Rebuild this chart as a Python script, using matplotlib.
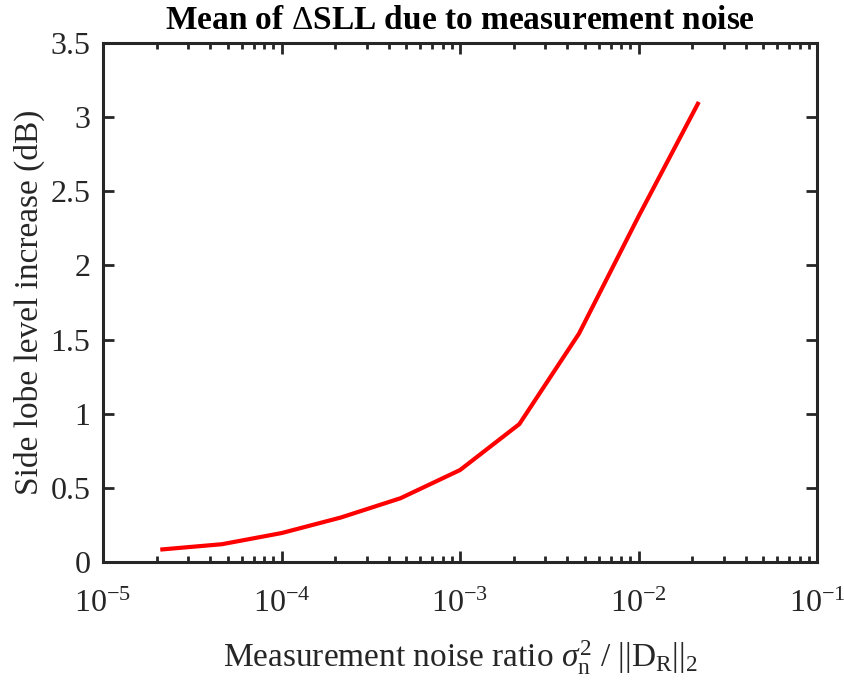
import matplotlib
matplotlib.use('Agg')
import matplotlib.pyplot as plt
from matplotlib.ticker import LogLocator, NullFormatter

plt.rcParams['font.family'] = ['Liberation Serif', 'DejaVu Serif']
plt.rcParams['mathtext.fontset'] = 'custom'
plt.rcParams['mathtext.rm'] = 'Liberation Serif'
plt.rcParams['mathtext.it'] = 'Liberation Serif:italic'
plt.rcParams['mathtext.bf'] = 'Liberation Serif:bold'
plt.rcParams['axes.unicode_minus'] = False

# noise ratio vs. mean side lobe level increase
noise_ratio = [2.15e-5, 4.64e-5, 1e-4, 2.15e-4, 4.64e-4,
               1e-3, 2.15e-3, 4.64e-3, 1e-2, 2.15e-2]
sll_increase = [0.085, 0.12, 0.195, 0.30, 0.43,
                0.62, 0.93, 1.54, 2.33, 3.09]
yticks = [0, 0.5, 1, 1.5, 2, 2.5, 3, 3.5]
ytick_labels = ['0', '0.5', '1', '1.5', '2', '2.5', '3', '3.5']
xticks = [1e-5, 1e-4, 1e-3, 1e-2, 1e-1]
xtick_labels = [r'10$^{-5}$', r'10$^{-4}$', r'10$^{-3}$', r'10$^{-2}$', r'10$^{-1}$']

fig = plt.figure(figsize=(8.44, 6.86), dpi=100)
ax = fig.add_axes([103 / 844, 1 - 562 / 686, 714 / 844, 519 / 686])

ax.plot(noise_ratio, sll_increase, color='red', lw=3)
ax.set_xscale('log')
ax.set_xlim(1e-5, 1e-1)
ax.set_ylim(0, 3.5)
ax.set_yticks(yticks)
ax.set_yticklabels(ytick_labels)
ax.set_xticks(xticks)
ax.set_xticklabels(xtick_labels)
ax.xaxis.set_minor_locator(LogLocator(base=10, subs=range(2, 10)))
ax.xaxis.set_minor_formatter(NullFormatter())

ax.tick_params(which='both', direction='in', top=True, right=True,
               color='#262626', labelcolor='#262626', labelsize=23)
ax.tick_params(axis='y', pad=9)
ax.tick_params(axis='x', pad=20)
ax.tick_params(which='major', length=8, width=2)
ax.tick_params(which='minor', length=4, width=2)
for s in ax.spines.values():
    s.set_linewidth(2.2)
    s.set_color('#262626')

ax.set_title(r'Mean of $\Delta$SLL due to measurement noise',
             fontsize=24, fontweight='bold', pad=10)
ax.set_xlabel(r'Measurement noise ratio $\sigma_{\rm n}^2$ / $||{\rm D}_{\rm R}||_2$',
              fontsize=24, color='#262626', labelpad=14)
ax.set_ylabel('Side lobe level increase (dB)', fontsize=24, color='#262626', labelpad=4)

fig.savefig('out.png', dpi=100)
